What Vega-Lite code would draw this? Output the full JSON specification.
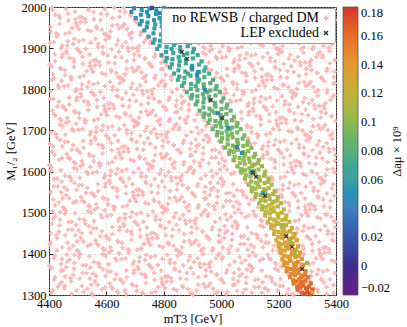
{
"$schema": "https://vega.github.io/schema/vega-lite/v6.json",
"width": 287, "height": 288,
"autosize": {"type": "none"},
"padding": {"left": 49, "top": 7, "right": 71, "bottom": 32},
"config": {
 "font": "Liberation Serif",
 "view": {"stroke": "#222", "strokeWidth": 1},
 "axis": {"labelFont": "Liberation Serif", "labelFontSize": 12.5, "labelColor": "#000", "titleFont": "Liberation Serif", "titleFontSize": 12.5, "titleFontWeight": "normal", "titleColor": "#000", "gridColor": "#bbb", "gridDash": [1, 2], "gridWidth": 0.8, "domain": false, "tickColor": "#222", "tickSize": -4}
},
"datasets": {
"pink": [
{"x":4407,"y":1305},{"x":4431,"y":1319},{"x":4444,"y":1331},{"x":4453,"y":1317},{"x":4477,"y":1333},{"x":4496,"y":1311},{"x":4534,"y":1315},{"x":4515,"y":1322},{"x":4548,"y":1303},{"x":4570,"y":1325},{"x":4595,"y":1318},{"x":4552,"y":1301},{"x":4612,"y":1328},{"x":4638,"y":1308},{"x":4622,"y":1316},{"x":4668,"y":1302},{"x":4691,"y":1324},{"x":4659,"y":1330},{"x":4725,"y":1306},{"x":4706,"y":1310},{"x":4737,"y":1329},{"x":4757,"y":1305},{"x":4781,"y":1319},{"x":4794,"y":1331},{"x":4803,"y":1317},{"x":4827,"y":1333},{"x":4846,"y":1311},{"x":4884,"y":1315},{"x":4865,"y":1322},{"x":4898,"y":1303},{"x":4920,"y":1325},{"x":4945,"y":1318},{"x":4902,"y":1301},{"x":4962,"y":1328},{"x":4988,"y":1308},{"x":4972,"y":1316},{"x":5018,"y":1302},{"x":5041,"y":1324},{"x":5009,"y":1330},{"x":5075,"y":1306},{"x":5056,"y":1310},{"x":5087,"y":1329},{"x":5107,"y":1305},{"x":5131,"y":1319},{"x":5144,"y":1331},{"x":5153,"y":1317},{"x":5177,"y":1333},{"x":5196,"y":1311},{"x":5234,"y":1315},{"x":5215,"y":1322},{"x":5248,"y":1303},{"x":5270,"y":1325},{"x":5252,"y":1301},{"x":5312,"y":1328},{"x":5338,"y":1308},{"x":5322,"y":1316},{"x":5368,"y":1302},{"x":5391,"y":1324},{"x":5359,"y":1330},
{"x":4418,"y":1337},{"x":4441,"y":1359},{"x":4409,"y":1365},{"x":4475,"y":1341},{"x":4456,"y":1345},{"x":4487,"y":1364},{"x":4507,"y":1340},{"x":4531,"y":1354},{"x":4544,"y":1366},{"x":4553,"y":1352},{"x":4577,"y":1368},{"x":4596,"y":1346},{"x":4634,"y":1350},{"x":4615,"y":1357},{"x":4648,"y":1338},{"x":4670,"y":1360},{"x":4695,"y":1353},{"x":4652,"y":1336},{"x":4712,"y":1363},{"x":4738,"y":1343},{"x":4722,"y":1351},{"x":4768,"y":1337},{"x":4791,"y":1359},{"x":4759,"y":1365},{"x":4825,"y":1341},{"x":4806,"y":1345},{"x":4837,"y":1364},{"x":4857,"y":1340},{"x":4881,"y":1354},{"x":4894,"y":1366},{"x":4903,"y":1352},{"x":4927,"y":1368},{"x":4946,"y":1346},{"x":4984,"y":1350},{"x":4965,"y":1357},{"x":4998,"y":1338},{"x":5020,"y":1360},{"x":5045,"y":1353},{"x":5002,"y":1336},{"x":5062,"y":1363},{"x":5088,"y":1343},{"x":5072,"y":1351},{"x":5118,"y":1337},{"x":5141,"y":1359},{"x":5109,"y":1365},{"x":5175,"y":1341},{"x":5156,"y":1345},{"x":5187,"y":1364},{"x":5207,"y":1340},{"x":5231,"y":1354},{"x":5296,"y":1346},{"x":5334,"y":1350},{"x":5315,"y":1357},{"x":5348,"y":1338},{"x":5370,"y":1360},{"x":5395,"y":1353},{"x":5352,"y":1336},
{"x":4420,"y":1395},{"x":4445,"y":1388},{"x":4402,"y":1371},{"x":4462,"y":1398},{"x":4488,"y":1378},{"x":4472,"y":1386},{"x":4518,"y":1372},{"x":4541,"y":1394},{"x":4509,"y":1400},{"x":4575,"y":1376},{"x":4556,"y":1380},{"x":4587,"y":1399},{"x":4607,"y":1375},{"x":4631,"y":1389},{"x":4644,"y":1401},{"x":4653,"y":1387},{"x":4677,"y":1403},{"x":4696,"y":1381},{"x":4734,"y":1385},{"x":4715,"y":1392},{"x":4748,"y":1373},{"x":4770,"y":1395},{"x":4795,"y":1388},{"x":4752,"y":1371},{"x":4812,"y":1398},{"x":4838,"y":1378},{"x":4822,"y":1386},{"x":4868,"y":1372},{"x":4891,"y":1394},{"x":4859,"y":1400},{"x":4925,"y":1376},{"x":4906,"y":1380},{"x":4937,"y":1399},{"x":4957,"y":1375},{"x":4981,"y":1389},{"x":4994,"y":1401},{"x":5003,"y":1387},{"x":5027,"y":1403},{"x":5046,"y":1381},{"x":5084,"y":1385},{"x":5065,"y":1392},{"x":5098,"y":1373},{"x":5120,"y":1395},{"x":5145,"y":1388},{"x":5102,"y":1371},{"x":5162,"y":1398},{"x":5188,"y":1378},{"x":5172,"y":1386},{"x":5218,"y":1372},{"x":5209,"y":1400},{"x":5275,"y":1376},{"x":5287,"y":1399},{"x":5307,"y":1375},{"x":5331,"y":1389},{"x":5344,"y":1401},{"x":5353,"y":1387},{"x":5377,"y":1403},{"x":5396,"y":1381},
{"x":4403,"y":1422},{"x":4427,"y":1438},{"x":4446,"y":1416},{"x":4484,"y":1420},{"x":4465,"y":1427},{"x":4498,"y":1408},{"x":4520,"y":1430},{"x":4545,"y":1423},{"x":4502,"y":1406},{"x":4562,"y":1433},{"x":4588,"y":1413},{"x":4572,"y":1421},{"x":4618,"y":1407},{"x":4641,"y":1429},{"x":4609,"y":1435},{"x":4675,"y":1411},{"x":4656,"y":1415},{"x":4687,"y":1434},{"x":4707,"y":1410},{"x":4731,"y":1424},{"x":4744,"y":1436},{"x":4753,"y":1422},{"x":4777,"y":1438},{"x":4796,"y":1416},{"x":4834,"y":1420},{"x":4815,"y":1427},{"x":4848,"y":1408},{"x":4870,"y":1430},{"x":4895,"y":1423},{"x":4852,"y":1406},{"x":4912,"y":1433},{"x":4938,"y":1413},{"x":4922,"y":1421},{"x":4968,"y":1407},{"x":4991,"y":1429},{"x":4959,"y":1435},{"x":5025,"y":1411},{"x":5006,"y":1415},{"x":5037,"y":1434},{"x":5057,"y":1410},{"x":5081,"y":1424},{"x":5094,"y":1436},{"x":5103,"y":1422},{"x":5127,"y":1438},{"x":5146,"y":1416},{"x":5184,"y":1420},{"x":5165,"y":1427},{"x":5198,"y":1408},{"x":5262,"y":1433},{"x":5288,"y":1413},{"x":5272,"y":1421},{"x":5318,"y":1407},{"x":5341,"y":1429},{"x":5309,"y":1435},{"x":5375,"y":1411},{"x":5356,"y":1415},{"x":5387,"y":1434},
{"x":4425,"y":1446},{"x":4406,"y":1450},{"x":4437,"y":1469},{"x":4457,"y":1445},{"x":4481,"y":1459},{"x":4494,"y":1471},{"x":4503,"y":1457},{"x":4527,"y":1473},{"x":4546,"y":1451},{"x":4584,"y":1455},{"x":4565,"y":1462},{"x":4598,"y":1443},{"x":4620,"y":1465},{"x":4645,"y":1458},{"x":4602,"y":1441},{"x":4662,"y":1468},{"x":4688,"y":1448},{"x":4672,"y":1456},{"x":4718,"y":1442},{"x":4741,"y":1464},{"x":4709,"y":1470},{"x":4775,"y":1446},{"x":4756,"y":1450},{"x":4787,"y":1469},{"x":4807,"y":1445},{"x":4831,"y":1459},{"x":4844,"y":1471},{"x":4853,"y":1457},{"x":4877,"y":1473},{"x":4896,"y":1451},{"x":4934,"y":1455},{"x":4915,"y":1462},{"x":4948,"y":1443},{"x":4970,"y":1465},{"x":4995,"y":1458},{"x":4952,"y":1441},{"x":5012,"y":1468},{"x":5038,"y":1448},{"x":5022,"y":1456},{"x":5068,"y":1442},{"x":5091,"y":1464},{"x":5059,"y":1470},{"x":5125,"y":1446},{"x":5106,"y":1450},{"x":5137,"y":1469},{"x":5157,"y":1445},{"x":5181,"y":1459},{"x":5246,"y":1451},{"x":5284,"y":1455},{"x":5265,"y":1462},{"x":5298,"y":1443},{"x":5320,"y":1465},{"x":5345,"y":1458},{"x":5302,"y":1441},{"x":5362,"y":1468},{"x":5388,"y":1448},{"x":5372,"y":1456},
{"x":4412,"y":1503},{"x":4438,"y":1483},{"x":4422,"y":1491},{"x":4468,"y":1477},{"x":4491,"y":1499},{"x":4459,"y":1505},{"x":4525,"y":1481},{"x":4506,"y":1485},{"x":4537,"y":1504},{"x":4557,"y":1480},{"x":4581,"y":1494},{"x":4594,"y":1506},{"x":4603,"y":1492},{"x":4627,"y":1508},{"x":4646,"y":1486},{"x":4684,"y":1490},{"x":4665,"y":1497},{"x":4698,"y":1478},{"x":4720,"y":1500},{"x":4745,"y":1493},{"x":4702,"y":1476},{"x":4762,"y":1503},{"x":4788,"y":1483},{"x":4772,"y":1491},{"x":4818,"y":1477},{"x":4841,"y":1499},{"x":4809,"y":1505},{"x":4875,"y":1481},{"x":4856,"y":1485},{"x":4887,"y":1504},{"x":4907,"y":1480},{"x":4931,"y":1494},{"x":4944,"y":1506},{"x":4953,"y":1492},{"x":4977,"y":1508},{"x":4996,"y":1486},{"x":5034,"y":1490},{"x":5015,"y":1497},{"x":5048,"y":1478},{"x":5070,"y":1500},{"x":5095,"y":1493},{"x":5052,"y":1476},{"x":5112,"y":1503},{"x":5138,"y":1483},{"x":5122,"y":1491},{"x":5159,"y":1505},{"x":5225,"y":1481},{"x":5237,"y":1504},{"x":5257,"y":1480},{"x":5281,"y":1494},{"x":5294,"y":1506},{"x":5303,"y":1492},{"x":5327,"y":1508},{"x":5346,"y":1486},{"x":5384,"y":1490},{"x":5365,"y":1497},{"x":5398,"y":1478},
{"x":4434,"y":1525},{"x":4415,"y":1532},{"x":4448,"y":1513},{"x":4470,"y":1535},{"x":4495,"y":1528},{"x":4452,"y":1511},{"x":4512,"y":1538},{"x":4538,"y":1518},{"x":4522,"y":1526},{"x":4568,"y":1512},{"x":4591,"y":1534},{"x":4559,"y":1540},{"x":4625,"y":1516},{"x":4606,"y":1520},{"x":4637,"y":1539},{"x":4657,"y":1515},{"x":4681,"y":1529},{"x":4694,"y":1541},{"x":4703,"y":1527},{"x":4727,"y":1543},{"x":4746,"y":1521},{"x":4784,"y":1525},{"x":4765,"y":1532},{"x":4798,"y":1513},{"x":4820,"y":1535},{"x":4845,"y":1528},{"x":4802,"y":1511},{"x":4862,"y":1538},{"x":4888,"y":1518},{"x":4872,"y":1526},{"x":4918,"y":1512},{"x":4941,"y":1534},{"x":4909,"y":1540},{"x":4975,"y":1516},{"x":4956,"y":1520},{"x":4987,"y":1539},{"x":5007,"y":1515},{"x":5031,"y":1529},{"x":5044,"y":1541},{"x":5053,"y":1527},{"x":5077,"y":1543},{"x":5096,"y":1521},{"x":5134,"y":1525},{"x":5115,"y":1532},{"x":5195,"y":1528},{"x":5212,"y":1538},{"x":5238,"y":1518},{"x":5222,"y":1526},{"x":5268,"y":1512},{"x":5291,"y":1534},{"x":5259,"y":1540},{"x":5325,"y":1516},{"x":5306,"y":1520},{"x":5337,"y":1539},{"x":5357,"y":1515},{"x":5381,"y":1529},{"x":5394,"y":1541},
{"x":4407,"y":1550},{"x":4431,"y":1564},{"x":4444,"y":1576},{"x":4453,"y":1562},{"x":4477,"y":1578},{"x":4496,"y":1556},{"x":4534,"y":1560},{"x":4515,"y":1567},{"x":4548,"y":1548},{"x":4570,"y":1570},{"x":4595,"y":1563},{"x":4552,"y":1546},{"x":4612,"y":1573},{"x":4638,"y":1553},{"x":4622,"y":1561},{"x":4668,"y":1547},{"x":4691,"y":1569},{"x":4659,"y":1575},{"x":4725,"y":1551},{"x":4706,"y":1555},{"x":4737,"y":1574},{"x":4757,"y":1550},{"x":4781,"y":1564},{"x":4794,"y":1576},{"x":4803,"y":1562},{"x":4827,"y":1578},{"x":4846,"y":1556},{"x":4884,"y":1560},{"x":4865,"y":1567},{"x":4898,"y":1548},{"x":4920,"y":1570},{"x":4945,"y":1563},{"x":4902,"y":1546},{"x":4962,"y":1573},{"x":4988,"y":1553},{"x":4972,"y":1561},{"x":5018,"y":1547},{"x":5041,"y":1569},{"x":5009,"y":1575},{"x":5075,"y":1551},{"x":5056,"y":1555},{"x":5087,"y":1574},{"x":5107,"y":1550},{"x":5177,"y":1578},{"x":5196,"y":1556},{"x":5234,"y":1560},{"x":5215,"y":1567},{"x":5248,"y":1548},{"x":5270,"y":1570},{"x":5295,"y":1563},{"x":5252,"y":1546},{"x":5312,"y":1573},{"x":5338,"y":1553},{"x":5322,"y":1561},{"x":5368,"y":1547},{"x":5391,"y":1569},{"x":5359,"y":1575},
{"x":4418,"y":1582},{"x":4441,"y":1604},{"x":4409,"y":1610},{"x":4475,"y":1586},{"x":4456,"y":1590},{"x":4487,"y":1609},{"x":4507,"y":1585},{"x":4531,"y":1599},{"x":4544,"y":1611},{"x":4553,"y":1597},{"x":4577,"y":1613},{"x":4596,"y":1591},{"x":4634,"y":1595},{"x":4615,"y":1602},{"x":4648,"y":1583},{"x":4670,"y":1605},{"x":4695,"y":1598},{"x":4652,"y":1581},{"x":4712,"y":1608},{"x":4738,"y":1588},{"x":4722,"y":1596},{"x":4768,"y":1582},{"x":4791,"y":1604},{"x":4759,"y":1610},{"x":4825,"y":1586},{"x":4806,"y":1590},{"x":4837,"y":1609},{"x":4857,"y":1585},{"x":4881,"y":1599},{"x":4894,"y":1611},{"x":4903,"y":1597},{"x":4927,"y":1613},{"x":4946,"y":1591},{"x":4984,"y":1595},{"x":4965,"y":1602},{"x":4998,"y":1583},{"x":5020,"y":1605},{"x":5045,"y":1598},{"x":5002,"y":1581},{"x":5062,"y":1608},{"x":5072,"y":1596},{"x":5175,"y":1586},{"x":5156,"y":1590},{"x":5187,"y":1609},{"x":5207,"y":1585},{"x":5231,"y":1599},{"x":5244,"y":1611},{"x":5253,"y":1597},{"x":5277,"y":1613},{"x":5296,"y":1591},{"x":5334,"y":1595},{"x":5315,"y":1602},{"x":5348,"y":1583},{"x":5370,"y":1605},{"x":5395,"y":1598},{"x":5352,"y":1581},
{"x":4420,"y":1640},{"x":4445,"y":1633},{"x":4402,"y":1616},{"x":4462,"y":1643},{"x":4488,"y":1623},{"x":4472,"y":1631},{"x":4518,"y":1617},{"x":4541,"y":1639},{"x":4509,"y":1645},{"x":4575,"y":1621},{"x":4556,"y":1625},{"x":4587,"y":1644},{"x":4607,"y":1620},{"x":4631,"y":1634},{"x":4644,"y":1646},{"x":4653,"y":1632},{"x":4677,"y":1648},{"x":4696,"y":1626},{"x":4734,"y":1630},{"x":4715,"y":1637},{"x":4748,"y":1618},{"x":4770,"y":1640},{"x":4795,"y":1633},{"x":4752,"y":1616},{"x":4812,"y":1643},{"x":4838,"y":1623},{"x":4822,"y":1631},{"x":4868,"y":1617},{"x":4891,"y":1639},{"x":4859,"y":1645},{"x":4925,"y":1621},{"x":4906,"y":1625},{"x":4937,"y":1644},{"x":4957,"y":1620},{"x":4981,"y":1634},{"x":4994,"y":1646},{"x":5003,"y":1632},{"x":5027,"y":1648},{"x":5046,"y":1626},{"x":5120,"y":1640},{"x":5145,"y":1633},{"x":5162,"y":1643},{"x":5188,"y":1623},{"x":5172,"y":1631},{"x":5218,"y":1617},{"x":5241,"y":1639},{"x":5209,"y":1645},{"x":5275,"y":1621},{"x":5256,"y":1625},{"x":5287,"y":1644},{"x":5307,"y":1620},{"x":5331,"y":1634},{"x":5344,"y":1646},{"x":5353,"y":1632},{"x":5377,"y":1648},{"x":5396,"y":1626},
{"x":4403,"y":1667},{"x":4427,"y":1683},{"x":4446,"y":1661},{"x":4484,"y":1665},{"x":4465,"y":1672},{"x":4498,"y":1653},{"x":4520,"y":1675},{"x":4545,"y":1668},{"x":4502,"y":1651},{"x":4562,"y":1678},{"x":4588,"y":1658},{"x":4572,"y":1666},{"x":4618,"y":1652},{"x":4641,"y":1674},{"x":4609,"y":1680},{"x":4675,"y":1656},{"x":4656,"y":1660},{"x":4687,"y":1679},{"x":4707,"y":1655},{"x":4731,"y":1669},{"x":4744,"y":1681},{"x":4753,"y":1667},{"x":4777,"y":1683},{"x":4796,"y":1661},{"x":4834,"y":1665},{"x":4815,"y":1672},{"x":4848,"y":1653},{"x":4870,"y":1675},{"x":4895,"y":1668},{"x":4852,"y":1651},{"x":4912,"y":1678},{"x":4938,"y":1658},{"x":4922,"y":1666},{"x":4968,"y":1652},{"x":4991,"y":1674},{"x":4959,"y":1680},{"x":5006,"y":1660},{"x":5094,"y":1681},{"x":5103,"y":1667},{"x":5127,"y":1683},{"x":5146,"y":1661},{"x":5184,"y":1665},{"x":5165,"y":1672},{"x":5198,"y":1653},{"x":5220,"y":1675},{"x":5245,"y":1668},{"x":5202,"y":1651},{"x":5262,"y":1678},{"x":5288,"y":1658},{"x":5272,"y":1666},{"x":5318,"y":1652},{"x":5341,"y":1674},{"x":5309,"y":1680},{"x":5375,"y":1656},{"x":5356,"y":1660},{"x":5387,"y":1679},
{"x":4425,"y":1691},{"x":4406,"y":1695},{"x":4437,"y":1714},{"x":4457,"y":1690},{"x":4481,"y":1704},{"x":4494,"y":1716},{"x":4503,"y":1702},{"x":4527,"y":1718},{"x":4546,"y":1696},{"x":4584,"y":1700},{"x":4565,"y":1707},{"x":4598,"y":1688},{"x":4620,"y":1710},{"x":4645,"y":1703},{"x":4602,"y":1686},{"x":4662,"y":1713},{"x":4688,"y":1693},{"x":4672,"y":1701},{"x":4718,"y":1687},{"x":4741,"y":1709},{"x":4709,"y":1715},{"x":4775,"y":1691},{"x":4756,"y":1695},{"x":4787,"y":1714},{"x":4807,"y":1690},{"x":4831,"y":1704},{"x":4844,"y":1716},{"x":4853,"y":1702},{"x":4877,"y":1718},{"x":4896,"y":1696},{"x":4934,"y":1700},{"x":4915,"y":1707},{"x":4948,"y":1688},{"x":4970,"y":1710},{"x":4952,"y":1686},{"x":5091,"y":1709},{"x":5125,"y":1691},{"x":5106,"y":1695},{"x":5137,"y":1714},{"x":5157,"y":1690},{"x":5181,"y":1704},{"x":5194,"y":1716},{"x":5203,"y":1702},{"x":5227,"y":1718},{"x":5246,"y":1696},{"x":5284,"y":1700},{"x":5265,"y":1707},{"x":5298,"y":1688},{"x":5320,"y":1710},{"x":5345,"y":1703},{"x":5302,"y":1686},{"x":5362,"y":1713},{"x":5388,"y":1693},{"x":5372,"y":1701},
{"x":4412,"y":1748},{"x":4438,"y":1728},{"x":4422,"y":1736},{"x":4468,"y":1722},{"x":4491,"y":1744},{"x":4459,"y":1750},{"x":4525,"y":1726},{"x":4506,"y":1730},{"x":4537,"y":1749},{"x":4557,"y":1725},{"x":4581,"y":1739},{"x":4594,"y":1751},{"x":4603,"y":1737},{"x":4627,"y":1753},{"x":4646,"y":1731},{"x":4684,"y":1735},{"x":4665,"y":1742},{"x":4698,"y":1723},{"x":4720,"y":1745},{"x":4745,"y":1738},{"x":4702,"y":1721},{"x":4762,"y":1748},{"x":4788,"y":1728},{"x":4772,"y":1736},{"x":4818,"y":1722},{"x":4841,"y":1744},{"x":4809,"y":1750},{"x":4875,"y":1726},{"x":4856,"y":1730},{"x":4887,"y":1749},{"x":4907,"y":1725},{"x":4931,"y":1739},{"x":5048,"y":1723},{"x":5070,"y":1745},{"x":5095,"y":1738},{"x":5052,"y":1721},{"x":5112,"y":1748},{"x":5138,"y":1728},{"x":5122,"y":1736},{"x":5168,"y":1722},{"x":5191,"y":1744},{"x":5159,"y":1750},{"x":5225,"y":1726},{"x":5206,"y":1730},{"x":5237,"y":1749},{"x":5257,"y":1725},{"x":5281,"y":1739},{"x":5294,"y":1751},{"x":5303,"y":1737},{"x":5327,"y":1753},{"x":5346,"y":1731},{"x":5384,"y":1735},{"x":5365,"y":1742},{"x":5398,"y":1723},
{"x":4434,"y":1770},{"x":4415,"y":1777},{"x":4448,"y":1758},{"x":4470,"y":1780},{"x":4495,"y":1773},{"x":4452,"y":1756},{"x":4512,"y":1783},{"x":4538,"y":1763},{"x":4522,"y":1771},{"x":4568,"y":1757},{"x":4591,"y":1779},{"x":4559,"y":1785},{"x":4625,"y":1761},{"x":4606,"y":1765},{"x":4637,"y":1784},{"x":4657,"y":1760},{"x":4681,"y":1774},{"x":4694,"y":1786},{"x":4703,"y":1772},{"x":4727,"y":1788},{"x":4746,"y":1766},{"x":4784,"y":1770},{"x":4765,"y":1777},{"x":4798,"y":1758},{"x":4820,"y":1780},{"x":4845,"y":1773},{"x":4802,"y":1756},{"x":4862,"y":1783},{"x":4888,"y":1763},{"x":4872,"y":1771},{"x":5031,"y":1774},{"x":5044,"y":1786},{"x":5053,"y":1772},{"x":5077,"y":1788},{"x":5096,"y":1766},{"x":5134,"y":1770},{"x":5115,"y":1777},{"x":5148,"y":1758},{"x":5170,"y":1780},{"x":5195,"y":1773},{"x":5152,"y":1756},{"x":5212,"y":1783},{"x":5238,"y":1763},{"x":5222,"y":1771},{"x":5268,"y":1757},{"x":5291,"y":1779},{"x":5259,"y":1785},{"x":5325,"y":1761},{"x":5306,"y":1765},{"x":5337,"y":1784},{"x":5357,"y":1760},{"x":5381,"y":1774},{"x":5394,"y":1786},
{"x":4407,"y":1795},{"x":4431,"y":1809},{"x":4444,"y":1821},{"x":4453,"y":1807},{"x":4477,"y":1823},{"x":4496,"y":1801},{"x":4534,"y":1805},{"x":4515,"y":1812},{"x":4548,"y":1793},{"x":4570,"y":1815},{"x":4595,"y":1808},{"x":4552,"y":1791},{"x":4612,"y":1818},{"x":4638,"y":1798},{"x":4622,"y":1806},{"x":4668,"y":1792},{"x":4691,"y":1814},{"x":4659,"y":1820},{"x":4725,"y":1796},{"x":4706,"y":1800},{"x":4737,"y":1819},{"x":4757,"y":1795},{"x":4781,"y":1809},{"x":4794,"y":1821},{"x":4803,"y":1807},{"x":4827,"y":1823},{"x":4846,"y":1801},{"x":4865,"y":1812},{"x":4988,"y":1798},{"x":5018,"y":1792},{"x":5041,"y":1814},{"x":5009,"y":1820},{"x":5075,"y":1796},{"x":5056,"y":1800},{"x":5087,"y":1819},{"x":5107,"y":1795},{"x":5131,"y":1809},{"x":5144,"y":1821},{"x":5153,"y":1807},{"x":5177,"y":1823},{"x":5196,"y":1801},{"x":5234,"y":1805},{"x":5215,"y":1812},{"x":5248,"y":1793},{"x":5270,"y":1815},{"x":5295,"y":1808},{"x":5252,"y":1791},{"x":5312,"y":1818},{"x":5338,"y":1798},{"x":5322,"y":1806},{"x":5368,"y":1792},{"x":5391,"y":1814},{"x":5359,"y":1820},
{"x":4418,"y":1827},{"x":4441,"y":1849},{"x":4409,"y":1855},{"x":4475,"y":1831},{"x":4456,"y":1835},{"x":4487,"y":1854},{"x":4507,"y":1830},{"x":4531,"y":1844},{"x":4544,"y":1856},{"x":4553,"y":1842},{"x":4577,"y":1858},{"x":4596,"y":1836},{"x":4634,"y":1840},{"x":4615,"y":1847},{"x":4648,"y":1828},{"x":4670,"y":1850},{"x":4695,"y":1843},{"x":4652,"y":1826},{"x":4712,"y":1853},{"x":4738,"y":1833},{"x":4722,"y":1841},{"x":4768,"y":1827},{"x":4791,"y":1849},{"x":4759,"y":1855},{"x":4825,"y":1831},{"x":4806,"y":1835},{"x":4984,"y":1840},{"x":4965,"y":1847},{"x":4998,"y":1828},{"x":5020,"y":1850},{"x":5045,"y":1843},{"x":5002,"y":1826},{"x":5062,"y":1853},{"x":5088,"y":1833},{"x":5072,"y":1841},{"x":5118,"y":1827},{"x":5141,"y":1849},{"x":5109,"y":1855},{"x":5175,"y":1831},{"x":5156,"y":1835},{"x":5187,"y":1854},{"x":5207,"y":1830},{"x":5231,"y":1844},{"x":5244,"y":1856},{"x":5253,"y":1842},{"x":5277,"y":1858},{"x":5296,"y":1836},{"x":5334,"y":1840},{"x":5315,"y":1847},{"x":5348,"y":1828},{"x":5370,"y":1850},{"x":5395,"y":1843},{"x":5352,"y":1826},
{"x":4420,"y":1885},{"x":4445,"y":1878},{"x":4402,"y":1861},{"x":4462,"y":1888},{"x":4488,"y":1868},{"x":4472,"y":1876},{"x":4518,"y":1862},{"x":4541,"y":1884},{"x":4509,"y":1890},{"x":4575,"y":1866},{"x":4556,"y":1870},{"x":4587,"y":1889},{"x":4607,"y":1865},{"x":4631,"y":1879},{"x":4644,"y":1891},{"x":4653,"y":1877},{"x":4677,"y":1893},{"x":4696,"y":1871},{"x":4734,"y":1875},{"x":4715,"y":1882},{"x":4748,"y":1863},{"x":4770,"y":1885},{"x":4795,"y":1878},{"x":4752,"y":1861},{"x":4937,"y":1889},{"x":4957,"y":1865},{"x":4981,"y":1879},{"x":4994,"y":1891},{"x":5003,"y":1877},{"x":5027,"y":1893},{"x":5046,"y":1871},{"x":5084,"y":1875},{"x":5065,"y":1882},{"x":5098,"y":1863},{"x":5120,"y":1885},{"x":5145,"y":1878},{"x":5102,"y":1861},{"x":5162,"y":1888},{"x":5188,"y":1868},{"x":5172,"y":1876},{"x":5218,"y":1862},{"x":5241,"y":1884},{"x":5209,"y":1890},{"x":5275,"y":1866},{"x":5256,"y":1870},{"x":5287,"y":1889},{"x":5307,"y":1865},{"x":5331,"y":1879},{"x":5344,"y":1891},{"x":5353,"y":1877},{"x":5377,"y":1893},{"x":5396,"y":1871},
{"x":4403,"y":1912},{"x":4427,"y":1928},{"x":4446,"y":1906},{"x":4484,"y":1910},{"x":4465,"y":1917},{"x":4498,"y":1898},{"x":4520,"y":1920},{"x":4545,"y":1913},{"x":4502,"y":1896},{"x":4562,"y":1923},{"x":4588,"y":1903},{"x":4572,"y":1911},{"x":4618,"y":1897},{"x":4641,"y":1919},{"x":4609,"y":1925},{"x":4675,"y":1901},{"x":4656,"y":1905},{"x":4687,"y":1924},{"x":4707,"y":1900},{"x":4731,"y":1914},{"x":4744,"y":1926},{"x":4753,"y":1912},{"x":4895,"y":1913},{"x":4938,"y":1903},{"x":4922,"y":1911},{"x":4968,"y":1897},{"x":4991,"y":1919},{"x":5025,"y":1901},{"x":5006,"y":1905},{"x":5057,"y":1900},{"x":5081,"y":1914},{"x":5103,"y":1912},{"x":5146,"y":1906},{"x":5184,"y":1910},{"x":5165,"y":1917},{"x":5198,"y":1898},{"x":5220,"y":1920},{"x":5245,"y":1913},{"x":5202,"y":1896},{"x":5288,"y":1903},{"x":5272,"y":1911},{"x":5318,"y":1897},{"x":5341,"y":1919},{"x":5375,"y":1901},{"x":5356,"y":1905},{"x":5387,"y":1924},
{"x":4425,"y":1936},{"x":4406,"y":1940},{"x":4437,"y":1959},{"x":4457,"y":1935},{"x":4481,"y":1949},{"x":4494,"y":1961},{"x":4503,"y":1947},{"x":4527,"y":1963},{"x":4546,"y":1941},{"x":4584,"y":1945},{"x":4565,"y":1952},{"x":4598,"y":1933},{"x":4620,"y":1955},{"x":4645,"y":1948},{"x":4602,"y":1931},{"x":4662,"y":1958},{"x":4688,"y":1938},{"x":4672,"y":1946},{"x":4718,"y":1932},{"x":4709,"y":1960},{"x":5388,"y":1938},{"x":5372,"y":1946},
{"x":4412,"y":1993},{"x":4438,"y":1973},{"x":4422,"y":1981},{"x":4468,"y":1967},{"x":4491,"y":1989},{"x":4459,"y":1995},{"x":4525,"y":1971},{"x":4506,"y":1975},{"x":4537,"y":1994},{"x":4557,"y":1970},{"x":4581,"y":1984},{"x":4594,"y":1996},{"x":4603,"y":1982},{"x":4627,"y":1998},{"x":4646,"y":1976},{"x":4684,"y":1980},{"x":4665,"y":1987},{"x":4698,"y":1968},{"x":4702,"y":1966},{"x":5384,"y":1980},{"x":5365,"y":1987},{"x":5398,"y":1968}
],
"pink2": [
{"x":4414,"y":1311},{"x":4439,"y":1327},{"x":4479,"y":1303},{"x":4455,"y":1322},{"x":4547,"y":1325},{"x":4521,"y":1308},{"x":4560,"y":1333},{"x":4585,"y":1314},{"x":4642,"y":1305},{"x":4617,"y":1319},{"x":4664,"y":1311},{"x":4689,"y":1327},{"x":4729,"y":1303},{"x":4705,"y":1322},{"x":4797,"y":1325},{"x":4771,"y":1308},{"x":4810,"y":1333},{"x":4835,"y":1314},{"x":4892,"y":1305},{"x":4867,"y":1319},{"x":4914,"y":1311},{"x":4939,"y":1327},{"x":4979,"y":1303},{"x":4955,"y":1322},{"x":5047,"y":1325},{"x":5021,"y":1308},{"x":5060,"y":1333},{"x":5085,"y":1314},{"x":5142,"y":1305},{"x":5117,"y":1319},{"x":5164,"y":1311},{"x":5189,"y":1327},{"x":5229,"y":1303},{"x":5205,"y":1322},{"x":5271,"y":1308},{"x":5310,"y":1333},{"x":5335,"y":1314},{"x":5392,"y":1305},{"x":5367,"y":1319},
{"x":4447,"y":1360},{"x":4421,"y":1343},{"x":4460,"y":1368},{"x":4485,"y":1349},{"x":4542,"y":1340},{"x":4517,"y":1354},{"x":4564,"y":1346},{"x":4589,"y":1362},{"x":4629,"y":1338},{"x":4605,"y":1357},{"x":4697,"y":1360},{"x":4671,"y":1343},{"x":4710,"y":1368},{"x":4735,"y":1349},{"x":4792,"y":1340},{"x":4767,"y":1354},{"x":4814,"y":1346},{"x":4839,"y":1362},{"x":4879,"y":1338},{"x":4855,"y":1357},{"x":4947,"y":1360},{"x":4921,"y":1343},{"x":4960,"y":1368},{"x":4985,"y":1349},{"x":5042,"y":1340},{"x":5017,"y":1354},{"x":5064,"y":1346},{"x":5089,"y":1362},{"x":5129,"y":1338},{"x":5105,"y":1357},{"x":5197,"y":1360},{"x":5171,"y":1343},{"x":5210,"y":1368},{"x":5235,"y":1349},{"x":5292,"y":1340},{"x":5314,"y":1346},{"x":5339,"y":1362},{"x":5379,"y":1338},{"x":5355,"y":1357},
{"x":4442,"y":1375},{"x":4417,"y":1389},{"x":4464,"y":1381},{"x":4489,"y":1397},{"x":4529,"y":1373},{"x":4505,"y":1392},{"x":4597,"y":1395},{"x":4571,"y":1378},{"x":4610,"y":1403},{"x":4635,"y":1384},{"x":4692,"y":1375},{"x":4667,"y":1389},{"x":4714,"y":1381},{"x":4739,"y":1397},{"x":4779,"y":1373},{"x":4755,"y":1392},{"x":4847,"y":1395},{"x":4821,"y":1378},{"x":4860,"y":1403},{"x":4885,"y":1384},{"x":4942,"y":1375},{"x":4917,"y":1389},{"x":4964,"y":1381},{"x":4989,"y":1397},{"x":5029,"y":1373},{"x":5005,"y":1392},{"x":5097,"y":1395},{"x":5071,"y":1378},{"x":5110,"y":1403},{"x":5135,"y":1384},{"x":5192,"y":1375},{"x":5167,"y":1389},{"x":5214,"y":1381},{"x":5279,"y":1373},{"x":5347,"y":1395},{"x":5321,"y":1378},{"x":5360,"y":1403},{"x":5385,"y":1384},
{"x":4429,"y":1408},{"x":4405,"y":1427},{"x":4497,"y":1430},{"x":4471,"y":1413},{"x":4510,"y":1438},{"x":4535,"y":1419},{"x":4592,"y":1410},{"x":4567,"y":1424},{"x":4614,"y":1416},{"x":4639,"y":1432},{"x":4679,"y":1408},{"x":4655,"y":1427},{"x":4747,"y":1430},{"x":4721,"y":1413},{"x":4760,"y":1438},{"x":4785,"y":1419},{"x":4842,"y":1410},{"x":4817,"y":1424},{"x":4864,"y":1416},{"x":4889,"y":1432},{"x":4929,"y":1408},{"x":4905,"y":1427},{"x":4997,"y":1430},{"x":4971,"y":1413},{"x":5010,"y":1438},{"x":5035,"y":1419},{"x":5092,"y":1410},{"x":5067,"y":1424},{"x":5114,"y":1416},{"x":5139,"y":1432},{"x":5179,"y":1408},{"x":5155,"y":1427},{"x":5260,"y":1438},{"x":5285,"y":1419},{"x":5342,"y":1410},{"x":5317,"y":1424},{"x":5364,"y":1416},{"x":5389,"y":1432},
{"x":4410,"y":1473},{"x":4435,"y":1454},{"x":4492,"y":1445},{"x":4467,"y":1459},{"x":4514,"y":1451},{"x":4539,"y":1467},{"x":4579,"y":1443},{"x":4555,"y":1462},{"x":4647,"y":1465},{"x":4621,"y":1448},{"x":4660,"y":1473},{"x":4685,"y":1454},{"x":4742,"y":1445},{"x":4717,"y":1459},{"x":4764,"y":1451},{"x":4789,"y":1467},{"x":4829,"y":1443},{"x":4805,"y":1462},{"x":4897,"y":1465},{"x":4871,"y":1448},{"x":4910,"y":1473},{"x":4935,"y":1454},{"x":4992,"y":1445},{"x":4967,"y":1459},{"x":5014,"y":1451},{"x":5039,"y":1467},{"x":5079,"y":1443},{"x":5055,"y":1462},{"x":5147,"y":1465},{"x":5121,"y":1448},{"x":5160,"y":1473},{"x":5264,"y":1451},{"x":5289,"y":1467},{"x":5329,"y":1443},{"x":5305,"y":1462},{"x":5397,"y":1465},{"x":5371,"y":1448},
{"x":4414,"y":1486},{"x":4439,"y":1502},{"x":4479,"y":1478},{"x":4455,"y":1497},{"x":4547,"y":1500},{"x":4521,"y":1483},{"x":4560,"y":1508},{"x":4585,"y":1489},{"x":4642,"y":1480},{"x":4617,"y":1494},{"x":4664,"y":1486},{"x":4689,"y":1502},{"x":4729,"y":1478},{"x":4705,"y":1497},{"x":4797,"y":1500},{"x":4771,"y":1483},{"x":4810,"y":1508},{"x":4835,"y":1489},{"x":4892,"y":1480},{"x":4867,"y":1494},{"x":4914,"y":1486},{"x":4939,"y":1502},{"x":4979,"y":1478},{"x":4955,"y":1497},{"x":5047,"y":1500},{"x":5021,"y":1483},{"x":5060,"y":1508},{"x":5085,"y":1489},{"x":5142,"y":1480},{"x":5117,"y":1494},{"x":5297,"y":1500},{"x":5271,"y":1483},{"x":5310,"y":1508},{"x":5335,"y":1489},{"x":5392,"y":1480},{"x":5367,"y":1494},
{"x":4447,"y":1535},{"x":4421,"y":1518},{"x":4460,"y":1543},{"x":4485,"y":1524},{"x":4542,"y":1515},{"x":4517,"y":1529},{"x":4564,"y":1521},{"x":4589,"y":1537},{"x":4629,"y":1513},{"x":4605,"y":1532},{"x":4697,"y":1535},{"x":4671,"y":1518},{"x":4710,"y":1543},{"x":4735,"y":1524},{"x":4792,"y":1515},{"x":4767,"y":1529},{"x":4814,"y":1521},{"x":4839,"y":1537},{"x":4879,"y":1513},{"x":4855,"y":1532},{"x":4947,"y":1535},{"x":4921,"y":1518},{"x":4960,"y":1543},{"x":4985,"y":1524},{"x":5042,"y":1515},{"x":5017,"y":1529},{"x":5064,"y":1521},{"x":5089,"y":1537},{"x":5129,"y":1513},{"x":5105,"y":1532},{"x":5210,"y":1543},{"x":5235,"y":1524},{"x":5292,"y":1515},{"x":5267,"y":1529},{"x":5314,"y":1521},{"x":5339,"y":1537},{"x":5379,"y":1513},{"x":5355,"y":1532},
{"x":4442,"y":1550},{"x":4417,"y":1564},{"x":4464,"y":1556},{"x":4489,"y":1572},{"x":4529,"y":1548},{"x":4505,"y":1567},{"x":4597,"y":1570},{"x":4571,"y":1553},{"x":4610,"y":1578},{"x":4635,"y":1559},{"x":4692,"y":1550},{"x":4667,"y":1564},{"x":4714,"y":1556},{"x":4739,"y":1572},{"x":4779,"y":1548},{"x":4755,"y":1567},{"x":4847,"y":1570},{"x":4821,"y":1553},{"x":4860,"y":1578},{"x":4885,"y":1559},{"x":4942,"y":1550},{"x":4917,"y":1564},{"x":4964,"y":1556},{"x":4989,"y":1572},{"x":5029,"y":1548},{"x":5005,"y":1567},{"x":5071,"y":1553},{"x":5192,"y":1550},{"x":5214,"y":1556},{"x":5239,"y":1572},{"x":5279,"y":1548},{"x":5255,"y":1567},{"x":5347,"y":1570},{"x":5321,"y":1553},{"x":5360,"y":1578},{"x":5385,"y":1559},
{"x":4429,"y":1583},{"x":4405,"y":1602},{"x":4497,"y":1605},{"x":4471,"y":1588},{"x":4510,"y":1613},{"x":4535,"y":1594},{"x":4592,"y":1585},{"x":4567,"y":1599},{"x":4614,"y":1591},{"x":4639,"y":1607},{"x":4679,"y":1583},{"x":4655,"y":1602},{"x":4747,"y":1605},{"x":4721,"y":1588},{"x":4760,"y":1613},{"x":4785,"y":1594},{"x":4842,"y":1585},{"x":4817,"y":1599},{"x":4864,"y":1591},{"x":4889,"y":1607},{"x":4929,"y":1583},{"x":4905,"y":1602},{"x":4997,"y":1605},{"x":4971,"y":1588},{"x":5010,"y":1613},{"x":5035,"y":1594},{"x":5067,"y":1599},{"x":5179,"y":1583},{"x":5155,"y":1602},{"x":5247,"y":1605},{"x":5221,"y":1588},{"x":5260,"y":1613},{"x":5285,"y":1594},{"x":5342,"y":1585},{"x":5317,"y":1599},{"x":5364,"y":1591},{"x":5389,"y":1607},
{"x":4410,"y":1648},{"x":4435,"y":1629},{"x":4492,"y":1620},{"x":4467,"y":1634},{"x":4514,"y":1626},{"x":4539,"y":1642},{"x":4579,"y":1618},{"x":4555,"y":1637},{"x":4647,"y":1640},{"x":4621,"y":1623},{"x":4660,"y":1648},{"x":4685,"y":1629},{"x":4742,"y":1620},{"x":4717,"y":1634},{"x":4764,"y":1626},{"x":4789,"y":1642},{"x":4829,"y":1618},{"x":4805,"y":1637},{"x":4897,"y":1640},{"x":4871,"y":1623},{"x":4910,"y":1648},{"x":4935,"y":1629},{"x":4992,"y":1620},{"x":4967,"y":1634},{"x":5014,"y":1626},{"x":5147,"y":1640},{"x":5160,"y":1648},{"x":5185,"y":1629},{"x":5242,"y":1620},{"x":5217,"y":1634},{"x":5264,"y":1626},{"x":5289,"y":1642},{"x":5329,"y":1618},{"x":5305,"y":1637},{"x":5397,"y":1640},{"x":5371,"y":1623},
{"x":4414,"y":1661},{"x":4439,"y":1677},{"x":4479,"y":1653},{"x":4455,"y":1672},{"x":4547,"y":1675},{"x":4521,"y":1658},{"x":4560,"y":1683},{"x":4585,"y":1664},{"x":4642,"y":1655},{"x":4617,"y":1669},{"x":4664,"y":1661},{"x":4689,"y":1677},{"x":4729,"y":1653},{"x":4705,"y":1672},{"x":4797,"y":1675},{"x":4771,"y":1658},{"x":4810,"y":1683},{"x":4835,"y":1664},{"x":4892,"y":1655},{"x":4867,"y":1669},{"x":4914,"y":1661},{"x":4939,"y":1677},{"x":4979,"y":1653},{"x":4955,"y":1672},{"x":5142,"y":1655},{"x":5117,"y":1669},{"x":5164,"y":1661},{"x":5189,"y":1677},{"x":5229,"y":1653},{"x":5205,"y":1672},{"x":5297,"y":1675},{"x":5271,"y":1658},{"x":5310,"y":1683},{"x":5335,"y":1664},{"x":5392,"y":1655},{"x":5367,"y":1669},
{"x":4447,"y":1710},{"x":4421,"y":1693},{"x":4460,"y":1718},{"x":4485,"y":1699},{"x":4542,"y":1690},{"x":4517,"y":1704},{"x":4564,"y":1696},{"x":4589,"y":1712},{"x":4629,"y":1688},{"x":4605,"y":1707},{"x":4697,"y":1710},{"x":4671,"y":1693},{"x":4710,"y":1718},{"x":4735,"y":1699},{"x":4792,"y":1690},{"x":4767,"y":1704},{"x":4814,"y":1696},{"x":4839,"y":1712},{"x":4879,"y":1688},{"x":4855,"y":1707},{"x":4947,"y":1710},{"x":4921,"y":1693},{"x":5089,"y":1712},{"x":5129,"y":1688},{"x":5105,"y":1707},{"x":5197,"y":1710},{"x":5171,"y":1693},{"x":5210,"y":1718},{"x":5235,"y":1699},{"x":5292,"y":1690},{"x":5267,"y":1704},{"x":5314,"y":1696},{"x":5339,"y":1712},{"x":5379,"y":1688},{"x":5355,"y":1707},
{"x":4442,"y":1725},{"x":4417,"y":1739},{"x":4464,"y":1731},{"x":4489,"y":1747},{"x":4529,"y":1723},{"x":4505,"y":1742},{"x":4597,"y":1745},{"x":4571,"y":1728},{"x":4610,"y":1753},{"x":4635,"y":1734},{"x":4692,"y":1725},{"x":4667,"y":1739},{"x":4714,"y":1731},{"x":4739,"y":1747},{"x":4779,"y":1723},{"x":4755,"y":1742},{"x":4847,"y":1745},{"x":4821,"y":1728},{"x":4860,"y":1753},{"x":4885,"y":1734},{"x":4942,"y":1725},{"x":4917,"y":1739},{"x":5097,"y":1745},{"x":5071,"y":1728},{"x":5110,"y":1753},{"x":5135,"y":1734},{"x":5192,"y":1725},{"x":5167,"y":1739},{"x":5214,"y":1731},{"x":5239,"y":1747},{"x":5279,"y":1723},{"x":5255,"y":1742},{"x":5347,"y":1745},{"x":5321,"y":1728},{"x":5360,"y":1753},{"x":5385,"y":1734},
{"x":4429,"y":1758},{"x":4405,"y":1777},{"x":4497,"y":1780},{"x":4471,"y":1763},{"x":4510,"y":1788},{"x":4535,"y":1769},{"x":4592,"y":1760},{"x":4567,"y":1774},{"x":4614,"y":1766},{"x":4639,"y":1782},{"x":4679,"y":1758},{"x":4655,"y":1777},{"x":4747,"y":1780},{"x":4721,"y":1763},{"x":4760,"y":1788},{"x":4785,"y":1769},{"x":4842,"y":1760},{"x":4817,"y":1774},{"x":4864,"y":1766},{"x":4889,"y":1782},{"x":5010,"y":1788},{"x":5035,"y":1769},{"x":5092,"y":1760},{"x":5067,"y":1774},{"x":5114,"y":1766},{"x":5139,"y":1782},{"x":5179,"y":1758},{"x":5155,"y":1777},{"x":5247,"y":1780},{"x":5221,"y":1763},{"x":5260,"y":1788},{"x":5285,"y":1769},{"x":5342,"y":1760},{"x":5317,"y":1774},{"x":5364,"y":1766},{"x":5389,"y":1782},
{"x":4410,"y":1823},{"x":4435,"y":1804},{"x":4492,"y":1795},{"x":4467,"y":1809},{"x":4514,"y":1801},{"x":4539,"y":1817},{"x":4579,"y":1793},{"x":4555,"y":1812},{"x":4647,"y":1815},{"x":4621,"y":1798},{"x":4660,"y":1823},{"x":4685,"y":1804},{"x":4742,"y":1795},{"x":4717,"y":1809},{"x":4764,"y":1801},{"x":4789,"y":1817},{"x":4829,"y":1793},{"x":4805,"y":1812},{"x":4871,"y":1798},{"x":4992,"y":1795},{"x":5014,"y":1801},{"x":5039,"y":1817},{"x":5079,"y":1793},{"x":5055,"y":1812},{"x":5147,"y":1815},{"x":5121,"y":1798},{"x":5160,"y":1823},{"x":5185,"y":1804},{"x":5242,"y":1795},{"x":5217,"y":1809},{"x":5264,"y":1801},{"x":5289,"y":1817},{"x":5329,"y":1793},{"x":5305,"y":1812},{"x":5397,"y":1815},{"x":5371,"y":1798},
{"x":4414,"y":1836},{"x":4439,"y":1852},{"x":4479,"y":1828},{"x":4455,"y":1847},{"x":4547,"y":1850},{"x":4521,"y":1833},{"x":4560,"y":1858},{"x":4585,"y":1839},{"x":4642,"y":1830},{"x":4617,"y":1844},{"x":4664,"y":1836},{"x":4689,"y":1852},{"x":4729,"y":1828},{"x":4705,"y":1847},{"x":4797,"y":1850},{"x":4771,"y":1833},{"x":4810,"y":1858},{"x":4835,"y":1839},{"x":4979,"y":1828},{"x":4955,"y":1847},{"x":5047,"y":1850},{"x":5021,"y":1833},{"x":5060,"y":1858},{"x":5085,"y":1839},{"x":5142,"y":1830},{"x":5117,"y":1844},{"x":5164,"y":1836},{"x":5189,"y":1852},{"x":5229,"y":1828},{"x":5205,"y":1847},{"x":5297,"y":1850},{"x":5271,"y":1833},{"x":5310,"y":1858},{"x":5335,"y":1839},{"x":5392,"y":1830},{"x":5367,"y":1844},
{"x":4447,"y":1885},{"x":4421,"y":1868},{"x":4460,"y":1893},{"x":4485,"y":1874},{"x":4542,"y":1865},{"x":4517,"y":1879},{"x":4564,"y":1871},{"x":4589,"y":1887},{"x":4629,"y":1863},{"x":4605,"y":1882},{"x":4697,"y":1885},{"x":4671,"y":1868},{"x":4710,"y":1893},{"x":4735,"y":1874},{"x":4792,"y":1865},{"x":4767,"y":1879},{"x":4947,"y":1885},{"x":4960,"y":1893},{"x":4985,"y":1874},{"x":5042,"y":1865},{"x":5017,"y":1879},{"x":5064,"y":1871},{"x":5089,"y":1887},{"x":5129,"y":1863},{"x":5105,"y":1882},{"x":5197,"y":1885},{"x":5171,"y":1868},{"x":5210,"y":1893},{"x":5235,"y":1874},{"x":5292,"y":1865},{"x":5267,"y":1879},{"x":5314,"y":1871},{"x":5339,"y":1887},{"x":5379,"y":1863},{"x":5355,"y":1882},
{"x":4442,"y":1900},{"x":4417,"y":1914},{"x":4464,"y":1906},{"x":4489,"y":1922},{"x":4529,"y":1898},{"x":4505,"y":1917},{"x":4597,"y":1920},{"x":4571,"y":1903},{"x":4610,"y":1928},{"x":4635,"y":1909},{"x":4692,"y":1900},{"x":4667,"y":1914},{"x":4714,"y":1906},{"x":4739,"y":1922},{"x":4755,"y":1917},{"x":4942,"y":1900},{"x":4917,"y":1914},{"x":4964,"y":1906},{"x":5029,"y":1898},{"x":5005,"y":1917},{"x":5097,"y":1920},{"x":5071,"y":1903},{"x":5135,"y":1909},{"x":5192,"y":1900},{"x":5167,"y":1914},{"x":5214,"y":1906},{"x":5279,"y":1898},{"x":5255,"y":1917},{"x":5347,"y":1920},{"x":5321,"y":1903},{"x":5385,"y":1909},
{"x":4429,"y":1933},{"x":4405,"y":1952},{"x":4497,"y":1955},{"x":4471,"y":1938},{"x":4510,"y":1963},{"x":4535,"y":1944},{"x":4592,"y":1935},{"x":4567,"y":1949},{"x":4614,"y":1941},{"x":4639,"y":1957},{"x":4679,"y":1933},{"x":4655,"y":1952},{"x":4721,"y":1938},{"x":5364,"y":1941},{"x":5389,"y":1957},
{"x":4410,"y":1998},{"x":4435,"y":1979},{"x":4492,"y":1970},{"x":4467,"y":1984},{"x":4514,"y":1976},{"x":4539,"y":1992},{"x":4579,"y":1968},{"x":4555,"y":1987},{"x":4647,"y":1990},{"x":4621,"y":1973},{"x":4660,"y":1998},{"x":4685,"y":1979},{"x":5397,"y":1990},{"x":5371,"y":1973}
],
"band": [
{"x":4696,"y":1997,"d":0.046},{"x":4723,"y":1993,"d":0.050},{"x":4750,"y":1996,"d":0.052},{"x":4774,"y":1992,"d":0.049},{"x":4801,"y":1998,"d":0.054},
{"x":4720,"y":1981,"d":0.052},{"x":4746,"y":1978,"d":0.048},{"x":4773,"y":1983,"d":0.055},{"x":4799,"y":1979,"d":0.053},{"x":4820,"y":1976,"d":0.056},
{"x":4723,"y":1966,"d":0.050},{"x":4743,"y":1962,"d":0.055},{"x":4766,"y":1968,"d":0.054},{"x":4792,"y":1964,"d":0.058},{"x":4819,"y":1967,"d":0.057},
{"x":4741,"y":1951,"d":0.054},{"x":4767,"y":1948,"d":0.057},{"x":4793,"y":1953,"d":0.060},{"x":4816,"y":1947,"d":0.058},{"x":4842,"y":1950,"d":0.061},
{"x":4764,"y":1936,"d":0.058},{"x":4790,"y":1933,"d":0.060},{"x":4816,"y":1938,"d":0.061},{"x":4841,"y":1932,"d":0.063},{"x":4861,"y":1935,"d":0.062},
{"x":4768,"y":1921,"d":0.057},{"x":4787,"y":1918,"d":0.061},{"x":4810,"y":1922,"d":0.063},{"x":4835,"y":1917,"d":0.064},{"x":4860,"y":1920,"d":0.066},
{"x":4785,"y":1906,"d":0.060},{"x":4810,"y":1903,"d":0.063},{"x":4835,"y":1908,"d":0.065},{"x":4857,"y":1902,"d":0.067},{"x":4883,"y":1905,"d":0.066},
{"x":4808,"y":1891,"d":0.064},{"x":4833,"y":1888,"d":0.066},{"x":4857,"y":1893,"d":0.067},{"x":4882,"y":1887,"d":0.068},{"x":4901,"y":1890,"d":0.070},
{"x":4811,"y":1876,"d":0.063},{"x":4830,"y":1873,"d":0.067},{"x":4852,"y":1878,"d":0.069},{"x":4877,"y":1872,"d":0.070},{"x":4902,"y":1875,"d":0.072},
{"x":4828,"y":1861,"d":0.068},{"x":4853,"y":1858,"d":0.070},{"x":4877,"y":1863,"d":0.072},{"x":4899,"y":1857,"d":0.071},{"x":4923,"y":1860,"d":0.074},
{"x":4851,"y":1846,"d":0.071},{"x":4875,"y":1843,"d":0.073},{"x":4899,"y":1848,"d":0.074},{"x":4923,"y":1842,"d":0.075},{"x":4941,"y":1845,"d":0.072},
{"x":4854,"y":1831,"d":0.072},{"x":4872,"y":1828,"d":0.074},{"x":4893,"y":1833,"d":0.076},{"x":4917,"y":1827,"d":0.077},{"x":4941,"y":1830,"d":0.078},
{"x":4871,"y":1816,"d":0.074},{"x":4895,"y":1813,"d":0.076},{"x":4918,"y":1818,"d":0.078},{"x":4939,"y":1812,"d":0.079},{"x":4962,"y":1815,"d":0.077},
{"x":4894,"y":1801,"d":0.077},{"x":4917,"y":1798,"d":0.079},{"x":4940,"y":1803,"d":0.080},{"x":4962,"y":1797,"d":0.081},{"x":4980,"y":1800,"d":0.082},
{"x":4899,"y":1786,"d":0.078},{"x":4917,"y":1783,"d":0.080},{"x":4936,"y":1788,"d":0.082},{"x":4958,"y":1782,"d":0.083},{"x":4980,"y":1785,"d":0.084},
{"x":4917,"y":1771,"d":0.080},{"x":4938,"y":1768,"d":0.082},{"x":4960,"y":1773,"d":0.084},{"x":4979,"y":1767,"d":0.085},{"x":5001,"y":1770,"d":0.083},
{"x":4938,"y":1756,"d":0.083},{"x":4959,"y":1753,"d":0.085},{"x":4980,"y":1758,"d":0.086},{"x":5001,"y":1752,"d":0.087},{"x":5018,"y":1755,"d":0.088},
{"x":4942,"y":1741,"d":0.084},{"x":4958,"y":1738,"d":0.086},{"x":4977,"y":1743,"d":0.088},{"x":4998,"y":1737,"d":0.089},{"x":5018,"y":1740,"d":0.090},
{"x":4960,"y":1726,"d":0.086},{"x":4980,"y":1723,"d":0.088},{"x":5000,"y":1728,"d":0.090},{"x":5018,"y":1722,"d":0.091},{"x":5037,"y":1725,"d":0.089},
{"x":4981,"y":1711,"d":0.089},{"x":5000,"y":1708,"d":0.090},{"x":5019,"y":1713,"d":0.092},{"x":5039,"y":1707,"d":0.093},{"x":5054,"y":1710,"d":0.091},
{"x":4987,"y":1696,"d":0.090},{"x":5002,"y":1693,"d":0.092},{"x":5019,"y":1698,"d":0.093},{"x":5037,"y":1692,"d":0.094},{"x":5056,"y":1695,"d":0.095},
{"x":5003,"y":1681,"d":0.092},{"x":5022,"y":1678,"d":0.094},{"x":5040,"y":1683,"d":0.095},{"x":5056,"y":1677,"d":0.096},{"x":5075,"y":1680,"d":0.094},
{"x":5023,"y":1666,"d":0.094},{"x":5041,"y":1663,"d":0.096},{"x":5059,"y":1668,"d":0.097},{"x":5077,"y":1662,"d":0.098},{"x":5091,"y":1665,"d":0.099},
{"x":5030,"y":1651,"d":0.096},{"x":5044,"y":1648,"d":0.098},{"x":5059,"y":1653,"d":0.099},{"x":5077,"y":1647,"d":0.100},{"x":5094,"y":1650,"d":0.101},
{"x":5047,"y":1636,"d":0.098},{"x":5064,"y":1633,"d":0.100},{"x":5081,"y":1638,"d":0.101},{"x":5096,"y":1632,"d":0.102},{"x":5113,"y":1635,"d":0.100},
{"x":5065,"y":1621,"d":0.100},{"x":5082,"y":1618,"d":0.102},{"x":5099,"y":1623,"d":0.103},{"x":5115,"y":1617,"d":0.104},{"x":5128,"y":1620,"d":0.105},
{"x":5071,"y":1606,"d":0.101},{"x":5083,"y":1603,"d":0.103},{"x":5098,"y":1608,"d":0.104},{"x":5114,"y":1602,"d":0.105},{"x":5130,"y":1605,"d":0.106},
{"x":5086,"y":1591,"d":0.103},{"x":5102,"y":1588,"d":0.105},{"x":5118,"y":1593,"d":0.106},{"x":5132,"y":1587,"d":0.107},{"x":5149,"y":1590,"d":0.105},
{"x":5104,"y":1576,"d":0.105},{"x":5120,"y":1573,"d":0.107},{"x":5135,"y":1578,"d":0.108},{"x":5151,"y":1572,"d":0.109},{"x":5163,"y":1575,"d":0.110},
{"x":5107,"y":1561,"d":0.106},{"x":5119,"y":1558,"d":0.108},{"x":5133,"y":1563,"d":0.109},{"x":5149,"y":1557,"d":0.111},{"x":5165,"y":1560,"d":0.112},
{"x":5121,"y":1546,"d":0.109},{"x":5137,"y":1543,"d":0.111},{"x":5152,"y":1548,"d":0.112},{"x":5166,"y":1542,"d":0.113},{"x":5181,"y":1545,"d":0.111},
{"x":5139,"y":1531,"d":0.111},{"x":5154,"y":1528,"d":0.113},{"x":5169,"y":1533,"d":0.114},{"x":5184,"y":1527,"d":0.116},{"x":5195,"y":1530,"d":0.117},
{"x":5143,"y":1516,"d":0.113},{"x":5154,"y":1513,"d":0.115},{"x":5167,"y":1518,"d":0.116},{"x":5182,"y":1512,"d":0.118},{"x":5197,"y":1515,"d":0.119},
{"x":5155,"y":1501,"d":0.116},{"x":5170,"y":1498,"d":0.118},{"x":5184,"y":1503,"d":0.119},{"x":5197,"y":1497,"d":0.121},{"x":5211,"y":1500,"d":0.120},
{"x":5170,"y":1486,"d":0.119},{"x":5184,"y":1483,"d":0.121},{"x":5199,"y":1488,"d":0.122},{"x":5213,"y":1482,"d":0.124},{"x":5224,"y":1485,"d":0.125},
{"x":5175,"y":1471,"d":0.122},{"x":5185,"y":1468,"d":0.124},{"x":5198,"y":1473,"d":0.125},{"x":5212,"y":1467,"d":0.127},{"x":5226,"y":1470,"d":0.128},
{"x":5186,"y":1456,"d":0.125},{"x":5200,"y":1453,"d":0.127},{"x":5214,"y":1458,"d":0.128},{"x":5226,"y":1452,"d":0.130},{"x":5240,"y":1455,"d":0.129},
{"x":5199,"y":1441,"d":0.128},{"x":5213,"y":1438,"d":0.130},{"x":5227,"y":1443,"d":0.131},{"x":5241,"y":1437,"d":0.133},{"x":5251,"y":1440,"d":0.134},
{"x":5200,"y":1426,"d":0.130},{"x":5210,"y":1423,"d":0.132},{"x":5222,"y":1428,"d":0.134},{"x":5236,"y":1422,"d":0.135},{"x":5249,"y":1425,"d":0.136},
{"x":5208,"y":1411,"d":0.133},{"x":5222,"y":1408,"d":0.135},{"x":5235,"y":1413,"d":0.137},{"x":5247,"y":1407,"d":0.138},{"x":5261,"y":1410,"d":0.137},
{"x":5219,"y":1396,"d":0.137},{"x":5232,"y":1393,"d":0.139},{"x":5246,"y":1398,"d":0.140},{"x":5259,"y":1392,"d":0.142},{"x":5270,"y":1395,"d":0.143},
{"x":5219,"y":1381,"d":0.140},{"x":5230,"y":1378,"d":0.142},{"x":5241,"y":1383,"d":0.144},{"x":5254,"y":1377,"d":0.145},{"x":5267,"y":1380,"d":0.146},
{"x":5229,"y":1366,"d":0.144},{"x":5242,"y":1363,"d":0.146},{"x":5255,"y":1368,"d":0.148},{"x":5267,"y":1362,"d":0.150},{"x":5280,"y":1365,"d":0.149},
{"x":5244,"y":1351,"d":0.149},{"x":5257,"y":1348,"d":0.151},{"x":5269,"y":1353,"d":0.153},{"x":5282,"y":1347,"d":0.154},{"x":5292,"y":1350,"d":0.156},
{"x":5251,"y":1336,"d":0.154},{"x":5260,"y":1333,"d":0.157},{"x":5271,"y":1338,"d":0.158},{"x":5283,"y":1332,"d":0.160},{"x":5294,"y":1335,"d":0.161},
{"x":5265,"y":1321,"d":0.160},{"x":5276,"y":1318,"d":0.163},{"x":5286,"y":1323,"d":0.165},{"x":5295,"y":1317,"d":0.166},{"x":5306,"y":1320,"d":0.164},
{"x":5281,"y":1306,"d":0.166},{"x":5290,"y":1303,"d":0.170},{"x":5299,"y":1308,"d":0.172},{"x":5308,"y":1302,"d":0.175},{"x":5315,"y":1304,"d":0.178},
{"x":4687,"y":1988,"d":0.047},{"x":4825,"y":1988,"d":0.053},{"x":4741,"y":1988,"d":0.051},
{"x":4702,"y":1973,"d":0.051},{"x":4838,"y":1973,"d":0.055},{"x":4785,"y":1973,"d":0.053},
{"x":4717,"y":1958,"d":0.053},{"x":4851,"y":1958,"d":0.058},{"x":4770,"y":1958,"d":0.056},
{"x":4732,"y":1943,"d":0.056},{"x":4866,"y":1943,"d":0.061},{"x":4814,"y":1943,"d":0.059},
{"x":4747,"y":1928,"d":0.057},{"x":4879,"y":1928,"d":0.063},{"x":4799,"y":1928,"d":0.060},
{"x":4763,"y":1913,"d":0.059},{"x":4891,"y":1913,"d":0.066},{"x":4841,"y":1913,"d":0.063},
{"x":4777,"y":1898,"d":0.061},{"x":4905,"y":1898,"d":0.068},{"x":4827,"y":1898,"d":0.065},
{"x":4792,"y":1883,"d":0.063},{"x":4918,"y":1883,"d":0.070},{"x":4869,"y":1883,"d":0.067},
{"x":4806,"y":1868,"d":0.066},{"x":4932,"y":1868,"d":0.072},{"x":4855,"y":1868,"d":0.069},
{"x":4821,"y":1853,"d":0.068},{"x":4945,"y":1853,"d":0.074},{"x":4897,"y":1853,"d":0.071},
{"x":4836,"y":1838,"d":0.070},{"x":4958,"y":1838,"d":0.076},{"x":4884,"y":1838,"d":0.073},
{"x":4849,"y":1823,"d":0.073},{"x":4971,"y":1823,"d":0.078},{"x":4923,"y":1823,"d":0.076},
{"x":4864,"y":1808,"d":0.075},{"x":4984,"y":1808,"d":0.080},{"x":4911,"y":1808,"d":0.078},
{"x":4880,"y":1793,"d":0.078},{"x":4996,"y":1793,"d":0.082},{"x":4951,"y":1793,"d":0.080},
{"x":4896,"y":1778,"d":0.079},{"x":5008,"y":1778,"d":0.084},{"x":4940,"y":1778,"d":0.082},
{"x":4911,"y":1763,"d":0.081},{"x":5021,"y":1763,"d":0.086},{"x":4978,"y":1763,"d":0.084},
{"x":4925,"y":1748,"d":0.084},{"x":5033,"y":1748,"d":0.088},{"x":4967,"y":1748,"d":0.086},
{"x":4939,"y":1733,"d":0.086},{"x":5045,"y":1733,"d":0.090},{"x":5004,"y":1733,"d":0.088},
{"x":4955,"y":1718,"d":0.088},{"x":5057,"y":1718,"d":0.092},{"x":4995,"y":1718,"d":0.090},
{"x":4970,"y":1703,"d":0.090},{"x":5068,"y":1703,"d":0.093},{"x":5030,"y":1703,"d":0.092},
{"x":4985,"y":1688,"d":0.091},{"x":5081,"y":1688,"d":0.095},{"x":5023,"y":1688,"d":0.093},
{"x":4999,"y":1673,"d":0.093},{"x":5093,"y":1673,"d":0.097},{"x":5056,"y":1673,"d":0.095},
{"x":5013,"y":1658,"d":0.095},{"x":5105,"y":1658,"d":0.099},{"x":5049,"y":1658,"d":0.097},
{"x":5028,"y":1643,"d":0.097},{"x":5118,"y":1643,"d":0.101},{"x":5083,"y":1643,"d":0.099},
{"x":5043,"y":1628,"d":0.099},{"x":5131,"y":1628,"d":0.103},{"x":5078,"y":1628,"d":0.101},
{"x":5056,"y":1613,"d":0.101},{"x":5142,"y":1613,"d":0.104},{"x":5108,"y":1613,"d":0.103},
{"x":5070,"y":1598,"d":0.102},{"x":5152,"y":1598,"d":0.106},{"x":5102,"y":1598,"d":0.104},
{"x":5083,"y":1583,"d":0.104},{"x":5165,"y":1583,"d":0.108},{"x":5133,"y":1583,"d":0.106},
{"x":5096,"y":1568,"d":0.106},{"x":5176,"y":1568,"d":0.110},{"x":5127,"y":1568,"d":0.108},
{"x":5106,"y":1553,"d":0.108},{"x":5186,"y":1553,"d":0.112},{"x":5155,"y":1553,"d":0.110},
{"x":5119,"y":1538,"d":0.110},{"x":5197,"y":1538,"d":0.114},{"x":5150,"y":1538,"d":0.112},
{"x":5132,"y":1523,"d":0.112},{"x":5208,"y":1523,"d":0.116},{"x":5178,"y":1523,"d":0.114},
{"x":5142,"y":1508,"d":0.114},{"x":5218,"y":1508,"d":0.119},{"x":5172,"y":1508,"d":0.117},
{"x":5153,"y":1493,"d":0.117},{"x":5227,"y":1493,"d":0.122},{"x":5198,"y":1493,"d":0.120},
{"x":5163,"y":1478,"d":0.120},{"x":5237,"y":1478,"d":0.125},{"x":5192,"y":1478,"d":0.123},
{"x":5174,"y":1463,"d":0.123},{"x":5246,"y":1463,"d":0.128},{"x":5218,"y":1463,"d":0.126},
{"x":5184,"y":1448,"d":0.126},{"x":5256,"y":1448,"d":0.131},{"x":5212,"y":1448,"d":0.129},
{"x":5192,"y":1433,"d":0.129},{"x":5264,"y":1433,"d":0.133},{"x":5236,"y":1433,"d":0.131},
{"x":5200,"y":1418,"d":0.131},{"x":5268,"y":1418,"d":0.136},{"x":5226,"y":1418,"d":0.134},
{"x":5207,"y":1403,"d":0.135},{"x":5275,"y":1403,"d":0.140},{"x":5249,"y":1403,"d":0.138},
{"x":5213,"y":1388,"d":0.138},{"x":5281,"y":1388,"d":0.143},{"x":5239,"y":1388,"d":0.141},
{"x":5220,"y":1373,"d":0.142},{"x":5286,"y":1373,"d":0.147},{"x":5260,"y":1373,"d":0.145},
{"x":5228,"y":1358,"d":0.147},{"x":5294,"y":1358,"d":0.151},{"x":5254,"y":1358,"d":0.149},
{"x":5239,"y":1343,"d":0.151},{"x":5303,"y":1343,"d":0.156},{"x":5278,"y":1343,"d":0.154},
{"x":5252,"y":1328,"d":0.157},{"x":5312,"y":1328,"d":0.162},{"x":5276,"y":1328,"d":0.160},
{"x":5266,"y":1313,"d":0.163},{"x":5318,"y":1313,"d":0.168},{"x":5299,"y":1313,"d":0.166},
{"x":4916,"y":1835,"d":0.045},{"x":4944,"y":1798,"d":0.048},{"x":4989,"y":1742,"d":0.05},{"x":5024,"y":1706,"d":0.05},{"x":5055,"y":1660,"d":0.045},{"x":5072,"y":1645,"d":0.05},{"x":5107,"y":1599,"d":0.048},{"x":5145,"y":1548,"d":0.055},{"x":4787,"y":1985,"d":0.042},{"x":4898,"y":1852,"d":0.045},{"x":4919,"y":1842,"d":0.05},{"x":4759,"y":1998,"d":0.008},{"x":5212,"y":1470,"d":0.1},{"x":5257,"y":1402,"d":0.108},{"x":5299,"y":1378,"d":0.11},{"x":5241,"y":1430,"d":0.105},{"x":5318,"y":1306,"d":0.12}
],
"lep": [
{"x":4863,"y":1891},{"x":4881,"y":1874},{"x":4964,"y":1774},{"x":5003,"y":1730},{"x":5111,"y":1597},{"x":5121,"y":1587},{"x":5153,"y":1541},{"x":5226,"y":1443},{"x":5247,"y":1417},{"x":5282,"y":1363}
]
},
"layer": [
{
 "data": {"name": "pink"},
 "mark": {"type": "point", "filled": true, "size": 20, "opacity": 1},
 "encoding": {
  "x": {"field": "x", "type": "quantitative", "scale": {"domain": [4400, 5400], "nice": false, "zero": false}, "axis": {"values": [4400, 4600, 4800, 5000, 5200, 5400], "format": "d", "title": "mT3 [GeV]", "labelPadding": 6, "titlePadding": 3, "grid": true, "labelFlush": false}},
  "y": {"field": "y", "type": "quantitative", "scale": {"domain": [1300, 2000], "nice": false, "zero": false}, "axis": {"values": [1300, 1400, 1500, 1600, 1700, 1800, 1900, 2000], "format": "d", "title": "M₁/₂ [GeV]", "labelPadding": 7, "titlePadding": 4, "grid": true}},
  "shape": {"datum": "no REWSB / charged DM", "type": "nominal", "scale": {"domain": ["no REWSB / charged DM", "LEP excluded"], "range": ["cross", "M-1,-0.6L-0.6,-1L0,-0.4L0.6,-1L1,-0.6L0.4,0L1,0.6L0.6,1L0,0.4L-0.6,1L-1,0.6L-0.4,0Z"]},
   "legend": {"orient": "none", "legendX": 112, "legendY": 1, "direction": "vertical", "title": null, "padding": 3, "fillColor": "#ffffff", "strokeColor": "#999", "cornerRadius": 2, "labelFont": "Liberation Serif", "labelFontSize": 14, "labelColor": "#000", "labelAlign": "right", "labelOffset": -14, "symbolOffset": 155, "rowPadding": 1, "symbolSize": 25}},
  "fill": {"datum": "no REWSB / charged DM", "type": "nominal", "scale": {"domain": ["no REWSB / charged DM", "LEP excluded"], "range": ["#ffb5b5", "#3a3038"]},
   "legend": {"orient": "none", "legendX": 112, "legendY": 1, "direction": "vertical", "title": null, "padding": 3, "fillColor": "#ffffff", "strokeColor": "#999", "cornerRadius": 2, "labelFont": "Liberation Serif", "labelFontSize": 14, "labelColor": "#000", "labelAlign": "right", "labelOffset": -14, "symbolOffset": 155, "rowPadding": 1, "symbolSize": 25}}
 }
},
{
 "data": {"name": "pink2"},
 "mark": {"type": "point", "filled": true, "size": 20, "color": "#ffb5b5", "opacity": 1, "shape": "cross"},
 "encoding": {
  "x": {"field": "x", "type": "quantitative"},
  "y": {"field": "y", "type": "quantitative", "axis": null}
 }
},
{
 "data": {"name": "band"},
 "mark": {"type": "square", "size": 17, "opacity": 1},
 "encoding": {
  "x": {"field": "x", "type": "quantitative"},
  "y": {"field": "y", "type": "quantitative", "axis": null},
  "color": {"field": "d", "type": "quantitative",
   "scale": {"domain": [-0.02, 0, 0.02, 0.04, 0.06, 0.08, 0.1, 0.12, 0.14, 0.16, 0.18], "range": ["#6a1b86", "#3b2d8c", "#3a56a8", "#3f7fc0", "#3d9ea8", "#5aae7a", "#8cba50", "#c4b33a", "#e29a2e", "#e86d2a", "#d8302a"]},
   "legend": {"orient": "none", "legendX": 294, "legendY": 0, "direction": "vertical", "title": null, "gradientLength": 288, "gradientThickness": 15, "gradientStrokeColor": "#555", "gradientStrokeWidth": 0.8, "values": [-0.02, 0, 0.02, 0.04, 0.06, 0.08, 0.1, 0.12, 0.14, 0.16, 0.18], "format": "~g", "labelFont": "Liberation Serif", "labelFontSize": 12.5, "labelColor": "#000", "labelOffset": 3, "labelOverlap": false, "labelBaseline": "middle"}}
 }
},
{
 "data": {"name": "lep"},
 "mark": {"type": "point", "filled": true, "size": 20, "opacity": 1},
 "encoding": {
  "x": {"field": "x", "type": "quantitative"},
  "y": {"field": "y", "type": "quantitative", "axis": {"orient": "right", "labels": false, "ticks": false, "domain": false, "grid": false, "title": "Δaμ × 10⁹", "titleAngle": 270, "titlePadding": 67}},
  "shape": {"datum": "LEP excluded", "type": "nominal"},
  "fill": {"datum": "LEP excluded", "type": "nominal"}
 }
}
],
"resolve": {"axis": {"y": "independent"}}
}
